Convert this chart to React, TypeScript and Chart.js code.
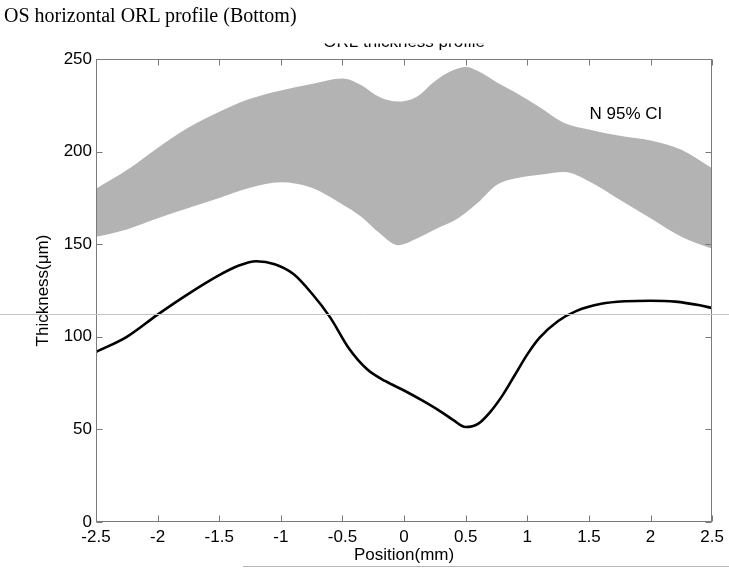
import React, { useEffect, useRef } from "react";
import { Chart, registerables } from "chart.js";

Chart.register(...registerables);

// ---- data ----
const pageTitle = "OS horizontal ORL profile (Bottom)";
const plotTitle = "ORL thickness profile";
const bandLabel = "N 95% CI";
const xTitle = "Position(mm)";
const yTitle = "Thickness(μm)";

const xTicks = [-2.5, -2, -1.5, -1, -0.5, 0, 0.5, 1, 1.5, 2, 2.5];
const yTicks = [0, 50, 100, 150, 200, 250];

const bandPositions = [
  -2.5, -2.25, -2.0, -1.75, -1.5, -1.25, -1.0, -0.75, -0.5, -0.35, -0.2, -0.05,
  0.1, 0.25, 0.4, 0.5, 0.6, 0.75, 0.9, 1.1, 1.3, 1.5, 1.75, 2.0, 2.25, 2.5,
];
const upperCI = [
  180, 190, 202, 213, 221.5, 228.5, 233, 236.5, 239.5, 236, 229.5, 227,
  229.5, 238, 244, 245.7, 243.5, 237.5, 232, 224, 215.5, 212, 208.5, 206, 201, 191,
];
const lowerCI = [
  154, 158, 164, 169.5, 175, 180.5, 183.5, 180.5, 171.5, 165, 156, 149.5,
  153, 158, 162.5, 167, 172.5, 182, 185.5, 187.5, 189, 184, 174, 164, 154, 147.5,
];

const meanPositions = [
  -2.5, -2.25, -2.0, -1.75, -1.5, -1.35, -1.2, -1.05, -0.9, -0.75, -0.6, -0.45,
  -0.3, -0.15, 0, 0.15, 0.3, 0.4, 0.5, 0.6, 0.7, 0.8, 0.9, 1.0, 1.1, 1.25, 1.4,
  1.6, 1.8, 2.0, 2.2, 2.4, 2.5,
];
const meanThickness = [
  91.8, 100, 112, 123.2, 133.3, 138.2, 140.8, 139.2, 134, 123.5, 110.5, 94,
  82.5, 76, 71, 65.5, 59.5, 55, 51.3, 53, 59.5, 68.5, 79.5, 90.5, 99.5, 108.5, 114,
  117.8, 119.2, 119.5, 119, 117, 115.5,
];

// page rule crossing the figure (value on the thickness axis)
const ruleValue = 112.3;
// label anchor (data coordinates)
const bandLabelAt = { x: 1.8, y: 220.3 };

const FONT = "'Liberation Sans', Arial, Helvetica, sans-serif";

const decorPlugin = {
  id: "decor",
  afterDraw(chart: any) {
    const { ctx, chartArea: a, scales } = chart;
    const xs = scales.x;
    const ys = scales.y;
    ctx.save();
    // frame
    ctx.strokeStyle = "#7a7a7a";
    ctx.lineWidth = 1;
    const L = Math.round(a.left) + 0.5;
    const R = Math.round(a.right) - 0.5;
    const T = Math.round(a.top) + 0.5;
    const B = Math.round(a.bottom) - 0.5;
    ctx.strokeRect(L, T, R - L, B - T);
    // inward ticks
    const tl = 6;
    ctx.beginPath();
    xTicks.forEach((v) => {
      const px = Math.round(xs.getPixelForValue(v)) + 0.5;
      ctx.moveTo(px, B);
      ctx.lineTo(px, B - tl);
      ctx.moveTo(px, T);
      ctx.lineTo(px, T + tl);
    });
    yTicks.forEach((v) => {
      const py = Math.round(ys.getPixelForValue(v)) + 0.5;
      ctx.moveTo(L, py);
      ctx.lineTo(L + tl, py);
      ctx.moveTo(R, py);
      ctx.lineTo(R - tl, py);
    });
    ctx.stroke();

    // band label
    ctx.fillStyle = "#000";
    ctx.font = `17px ${FONT}`;
    ctx.textAlign = "center";
    ctx.textBaseline = "middle";
    ctx.fillText(
      bandLabel,
      xs.getPixelForValue(bandLabelAt.x),
      ys.getPixelForValue(bandLabelAt.y)
    );

    // partially hidden plot title (only its lower edge shows)
    ctx.save();
    ctx.beginPath();
    ctx.rect(0, 43.5, chart.width, a.top - 43.5);
    ctx.clip();
    ctx.fillStyle = "#000";
    ctx.textBaseline = "alphabetic";
    ctx.fillText(plotTitle, (a.left + a.right) / 2, 47);
    ctx.restore();

    // page rules
    ctx.strokeStyle = "#c4c4c4";
    ctx.lineWidth = 1;
    const ry = Math.round(ys.getPixelForValue(ruleValue)) + 0.5;
    ctx.beginPath();
    ctx.moveTo(0, ry);
    ctx.lineTo(chart.width, ry);
    ctx.stroke();
    ctx.strokeStyle = "#b8b8b8";
    ctx.beginPath();
    ctx.moveTo(243, chart.height - 2.5);
    ctx.lineTo(chart.width, chart.height - 2.5);
    ctx.stroke();
    ctx.restore();
  },
};

export default function App() {
  const ref = useRef<HTMLCanvasElement | null>(null);

  useEffect(() => {
    if (!ref.current) return;
    const chart = new Chart(ref.current, {
      type: "line",
      data: {
        datasets: [
          {
            label: "Mean",
            data: meanPositions.map((x, i) => ({ x, y: meanThickness[i] })),
            borderColor: "#000000",
            borderWidth: 2.6,
            pointRadius: 0,
            fill: false,
            cubicInterpolationMode: "monotone",
            order: 0,
          },
          {
            label: "Upper 95% CI",
            data: bandPositions.map((x, i) => ({ x, y: upperCI[i] })),
            borderColor: "rgba(0,0,0,0)",
            borderWidth: 0,
            backgroundColor: "#b3b3b3",
            pointRadius: 0,
            fill: 2,
            cubicInterpolationMode: "monotone",
            order: 1,
          },
          {
            label: "Lower 95% CI",
            data: bandPositions.map((x, i) => ({ x, y: lowerCI[i] })),
            borderColor: "rgba(0,0,0,0)",
            borderWidth: 0,
            backgroundColor: "#b3b3b3",
            pointRadius: 0,
            fill: false,
            cubicInterpolationMode: "monotone",
            order: 2,
          },
        ],
      },
      options: {
        animation: false,
        responsive: false,
        devicePixelRatio: 1,
        layout: { padding: { left: 0, top: 59, right: 15, bottom: 0 } },
        plugins: {
          legend: { display: false },
          tooltip: { enabled: false },
          title: { display: false },
        },
        scales: {
          x: {
            type: "linear",
            min: -2.5,
            max: 2.5,
            afterBuildTicks: (s: any) => {
              s.ticks = xTicks.map((v) => ({ value: v }));
            },
            afterFit: (s: any) => {
              s.height = 47;
            },
            grid: { display: false, drawTicks: false },
            border: { display: false },
            ticks: {
              color: "#000",
              font: { family: FONT, size: 17 },
              padding: 5,
              maxRotation: 0,
              autoSkip: false,
              callback: (v: any) => String(Number(v)),
            },
            title: {
              display: true,
              text: xTitle,
              color: "#000",
              font: { family: FONT, size: 17 },
              padding: { top: 0, bottom: 3 },
            },
          },
          y: {
            type: "linear",
            min: 0,
            max: 250,
            afterBuildTicks: (s: any) => {
              s.ticks = yTicks.map((v) => ({ value: v }));
            },
            afterFit: (s: any) => {
              s.width = 96;
            },
            grid: { display: false, drawTicks: false },
            border: { display: false },
            ticks: {
              color: "#000",
              font: { family: FONT, size: 17 },
              padding: 4,
              autoSkip: false,
              callback: (v: any) => String(Number(v)),
            },
            title: {
              display: true,
              text: yTitle,
              color: "#000",
              font: { family: FONT, size: 17 },
              padding: { top: 33, bottom: 0 },
            },
          },
        },
      },
      plugins: [decorPlugin],
    });
    return () => chart.destroy();
  }, []);

  return (
    <div
      style={{
        position: "fixed",
        left: 0,
        top: 0,
        width: 729,
        height: 569,
        background: "#fff",
        overflow: "hidden",
      }}
    >
      <canvas
        ref={ref}
        width={729}
        height={569}
        style={{ position: "absolute", left: 0, top: 0, width: 729, height: 569 }}
      />
      <div
        style={{
          position: "absolute",
          left: 4,
          top: 4,
          fontFamily: "'Liberation Serif', 'Times New Roman', serif",
          fontSize: 20,
          color: "#000",
          whiteSpace: "nowrap",
          lineHeight: "normal",
        }}
      >
        {pageTitle}
      </div>
    </div>
  );
}
